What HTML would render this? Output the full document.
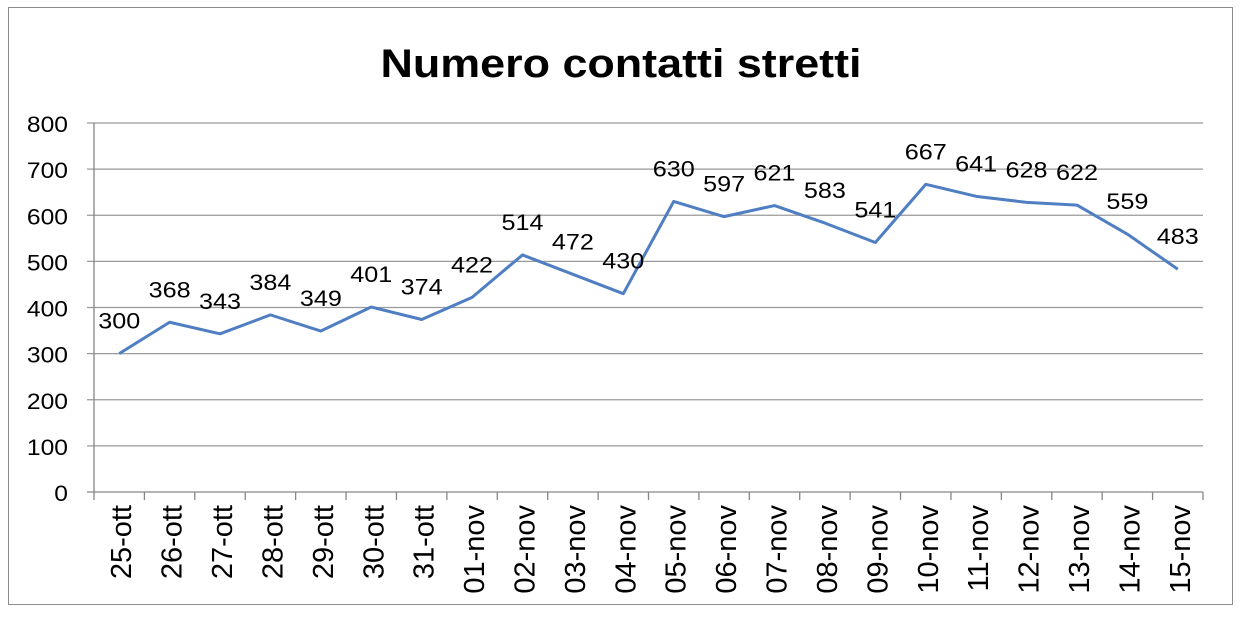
<!DOCTYPE html>
<html><head><meta charset="utf-8"><style>
body{margin:0;background:#fff;}
svg text{font-family:"Liberation Sans",Calibri,sans-serif;fill:#000;}
</style></head><body>
<svg width="1243" height="625" viewBox="0 0 1243 625">
<rect x="8.5" y="7.5" width="1224" height="597" fill="#fff" stroke="#8c8c8c"/>
<text x="621" y="77" text-anchor="middle" font-size="40" font-weight="bold" textLength="481" lengthAdjust="spacingAndGlyphs">Numero contatti stretti</text>
<g id="grid"></g><g id="axes"></g><g id="series"></g><g id="labels"></g>
</svg>
<script>
const categories=["25-ott","26-ott","27-ott","28-ott","29-ott","30-ott","31-ott","01-nov","02-nov","03-nov","04-nov","05-nov","06-nov","07-nov","08-nov","09-nov","10-nov","11-nov","12-nov","13-nov","14-nov","15-nov"];
const values=[300,368,343,384,349,401,374,422,514,472,430,630,597,621,583,541,667,641,628,622,559,483];
const yTicks=[0,100,200,300,400,500,600,700,800];
const NS="http://www.w3.org/2000/svg";
const L=94,R=1203,T=123,B=492,yMax=800;
const bw=(R-L)/categories.length;
const xs=i=>L+bw*(i+0.5);
const ys=v=>B-(v/yMax)*(B-T);
function mk(tag,attrs,parent){const e=document.createElementNS(NS,tag);for(const k in attrs)e.setAttribute(k,attrs[k]);document.getElementById(parent).appendChild(e);return e;}
yTicks.forEach(t=>{
 const y=ys(t);
 const g=mk('line',{x1:L-7,x2:R,y1:y,y2:y,stroke:t===0?'#868686':'#9a9a9a','stroke-width':1.3},'grid');
 
 
 const s=String(t);
 const tx=mk('text',{x:68,y:y+9,'text-anchor':'end','font-size':22,textLength:s.length*13.7,lengthAdjust:'spacingAndGlyphs'},'axes');
 tx.textContent=s;
 
 
});
const ya=mk('line',{x1:L,x2:L,y1:T,y2:B,stroke:'#868686','stroke-width':1.3},'axes');


for(let i=0;i<=categories.length;i++){
 const x=L+bw*i;
 const tk=mk('line',{x1:x,x2:x,y1:B,y2:B+8,stroke:'#868686','stroke-width':1.3},'axes');
 
 
}
categories.forEach((c,i)=>{
 const x=xs(i)+12;
 const t=mk('text',{x:x,y:505,'text-anchor':'end','font-size':29,transform:`rotate(-90 ${x} 505)`},'axes');
 t.textContent=c;
 
 
});
const pts=values.map((v,i)=>xs(i)+','+ys(v)).join(' ');
const pl=mk('polyline',{points:pts,fill:'none',stroke:'#4f7fc2','stroke-width':3,'stroke-linejoin':'round'},'series');


values.forEach((v,i)=>{
 const s=String(v);
 const t=mk('text',{x:xs(i),y:ys(v)-25,'text-anchor':'middle','font-size':22,textLength:s.length*14,lengthAdjust:'spacingAndGlyphs'},'labels');
 t.textContent=s;
 
 
});
</script>
</body></html>
